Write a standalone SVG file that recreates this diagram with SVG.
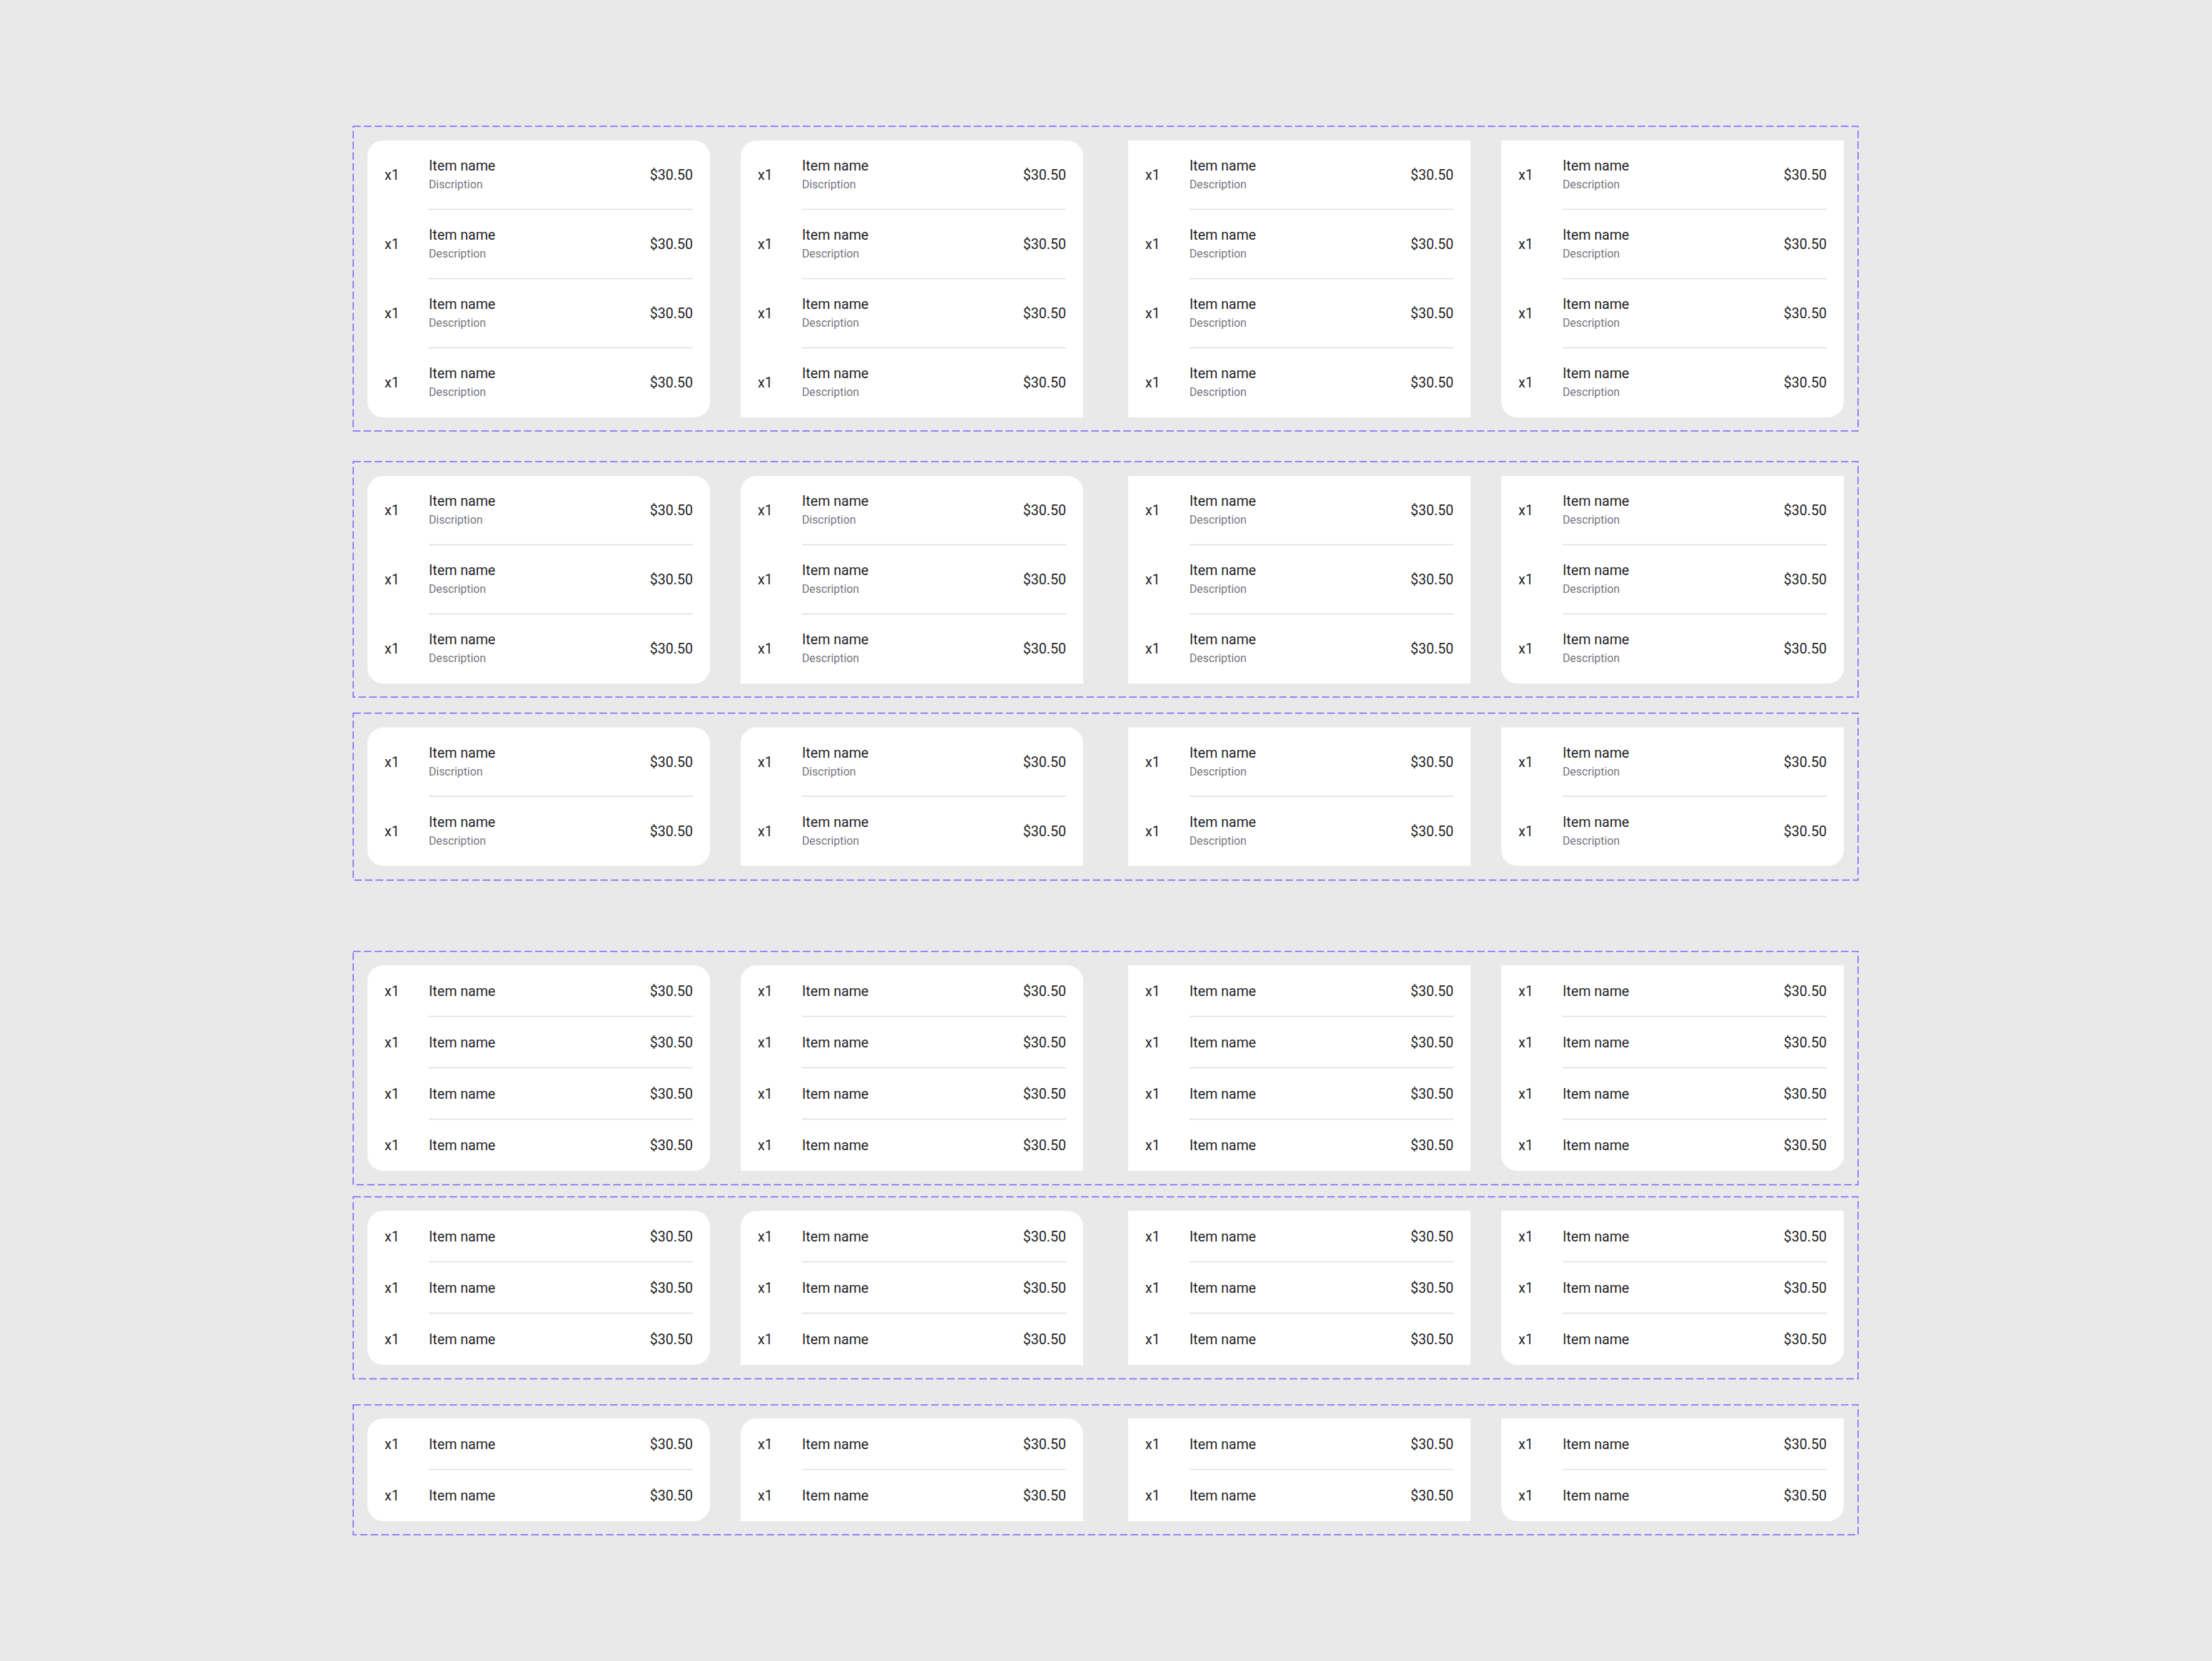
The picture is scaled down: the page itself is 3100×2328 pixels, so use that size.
<svg xmlns="http://www.w3.org/2000/svg" width="3100" height="2328" viewBox="0 0 3100 2328">
<style>
.frame{fill:none;stroke:#7b61ff;stroke-width:1.5;stroke-dasharray:10.5 4.5}
.card{fill:#ffffff}
.q,.n,.p{font-family:Roboto,"Liberation Sans",sans-serif;font-size:19.6px;fill:#1f1f27}
.p{text-anchor:end}
.d{font-family:Roboto,"Liberation Sans",sans-serif;font-size:15.8px;fill:#76767e}
.s{stroke:#dedee3;stroke-width:1.5}
</style>
<rect x="0" y="0" width="3100" height="2328" fill="#e9e9e9"/>
<g id="frames">
<rect class="frame" x="495" y="177" width="2109" height="427"/>
<rect class="frame" x="495" y="647" width="2109" height="330"/>
<rect class="frame" x="495" y="999.5" width="2109" height="234"/>
<rect class="frame" x="495" y="1333.5" width="2109" height="327"/>
<rect class="frame" x="495" y="1677.5" width="2109" height="255"/>
<rect class="frame" x="495" y="1969" width="2109" height="182"/>
</g>

<!-- Group 1: 4 rows with description -->
<g id="g1-c1" transform="translate(515,197)">
<rect class="card" width="480" height="388" rx="22"/>
<text class="q" x="24" y="55">x1</text><text class="n" x="86" y="42">Item name</text><text class="d" x="86" y="67">Discription</text><text class="p" x="456" y="55">$30.50</text>
<line class="s" x1="86" x2="456" y1="96.5" y2="96.5"/>
<text class="q" x="24" y="152">x1</text><text class="n" x="86" y="139">Item name</text><text class="d" x="86" y="164">Description</text><text class="p" x="456" y="152">$30.50</text>
<line class="s" x1="86" x2="456" y1="193.5" y2="193.5"/>
<text class="q" x="24" y="249">x1</text><text class="n" x="86" y="236">Item name</text><text class="d" x="86" y="261">Description</text><text class="p" x="456" y="249">$30.50</text>
<line class="s" x1="86" x2="456" y1="290.5" y2="290.5"/>
<text class="q" x="24" y="346">x1</text><text class="n" x="86" y="333">Item name</text><text class="d" x="86" y="358">Description</text><text class="p" x="456" y="346">$30.50</text>
</g>
<g id="g1-c2" transform="translate(1038,197)">
<path class="card" d="M0,22A22,22 0 0 1 22,0H458A22,22 0 0 1 480,22V388H0Z"/>
<text class="q" x="24" y="55">x1</text><text class="n" x="86" y="42">Item name</text><text class="d" x="86" y="67">Discription</text><text class="p" x="456" y="55">$30.50</text>
<line class="s" x1="86" x2="456" y1="96.5" y2="96.5"/>
<text class="q" x="24" y="152">x1</text><text class="n" x="86" y="139">Item name</text><text class="d" x="86" y="164">Description</text><text class="p" x="456" y="152">$30.50</text>
<line class="s" x1="86" x2="456" y1="193.5" y2="193.5"/>
<text class="q" x="24" y="249">x1</text><text class="n" x="86" y="236">Item name</text><text class="d" x="86" y="261">Description</text><text class="p" x="456" y="249">$30.50</text>
<line class="s" x1="86" x2="456" y1="290.5" y2="290.5"/>
<text class="q" x="24" y="346">x1</text><text class="n" x="86" y="333">Item name</text><text class="d" x="86" y="358">Description</text><text class="p" x="456" y="346">$30.50</text>
</g>
<g id="g1-c3" transform="translate(1581,197)">
<rect class="card" width="480" height="388"/>
<text class="q" x="24" y="55">x1</text><text class="n" x="86" y="42">Item name</text><text class="d" x="86" y="67">Description</text><text class="p" x="456" y="55">$30.50</text>
<line class="s" x1="86" x2="456" y1="96.5" y2="96.5"/>
<text class="q" x="24" y="152">x1</text><text class="n" x="86" y="139">Item name</text><text class="d" x="86" y="164">Description</text><text class="p" x="456" y="152">$30.50</text>
<line class="s" x1="86" x2="456" y1="193.5" y2="193.5"/>
<text class="q" x="24" y="249">x1</text><text class="n" x="86" y="236">Item name</text><text class="d" x="86" y="261">Description</text><text class="p" x="456" y="249">$30.50</text>
<line class="s" x1="86" x2="456" y1="290.5" y2="290.5"/>
<text class="q" x="24" y="346">x1</text><text class="n" x="86" y="333">Item name</text><text class="d" x="86" y="358">Description</text><text class="p" x="456" y="346">$30.50</text>
</g>
<g id="g1-c4" transform="translate(2104,197)">
<path class="card" d="M0,0H480V366A22,22 0 0 1 458,388H22A22,22 0 0 1 0,366Z"/>
<text class="q" x="24" y="55">x1</text><text class="n" x="86" y="42">Item name</text><text class="d" x="86" y="67">Description</text><text class="p" x="456" y="55">$30.50</text>
<line class="s" x1="86" x2="456" y1="96.5" y2="96.5"/>
<text class="q" x="24" y="152">x1</text><text class="n" x="86" y="139">Item name</text><text class="d" x="86" y="164">Description</text><text class="p" x="456" y="152">$30.50</text>
<line class="s" x1="86" x2="456" y1="193.5" y2="193.5"/>
<text class="q" x="24" y="249">x1</text><text class="n" x="86" y="236">Item name</text><text class="d" x="86" y="261">Description</text><text class="p" x="456" y="249">$30.50</text>
<line class="s" x1="86" x2="456" y1="290.5" y2="290.5"/>
<text class="q" x="24" y="346">x1</text><text class="n" x="86" y="333">Item name</text><text class="d" x="86" y="358">Description</text><text class="p" x="456" y="346">$30.50</text>
</g>

<!-- Group 2: 3 rows with description -->
<g id="g2-c1" transform="translate(515,667)">
<rect class="card" width="480" height="291" rx="22"/>
<text class="q" x="24" y="55">x1</text><text class="n" x="86" y="42">Item name</text><text class="d" x="86" y="67">Discription</text><text class="p" x="456" y="55">$30.50</text>
<line class="s" x1="86" x2="456" y1="96.5" y2="96.5"/>
<text class="q" x="24" y="152">x1</text><text class="n" x="86" y="139">Item name</text><text class="d" x="86" y="164">Description</text><text class="p" x="456" y="152">$30.50</text>
<line class="s" x1="86" x2="456" y1="193.5" y2="193.5"/>
<text class="q" x="24" y="249">x1</text><text class="n" x="86" y="236">Item name</text><text class="d" x="86" y="261">Description</text><text class="p" x="456" y="249">$30.50</text>
</g>
<g id="g2-c2" transform="translate(1038,667)">
<path class="card" d="M0,22A22,22 0 0 1 22,0H458A22,22 0 0 1 480,22V291H0Z"/>
<text class="q" x="24" y="55">x1</text><text class="n" x="86" y="42">Item name</text><text class="d" x="86" y="67">Discription</text><text class="p" x="456" y="55">$30.50</text>
<line class="s" x1="86" x2="456" y1="96.5" y2="96.5"/>
<text class="q" x="24" y="152">x1</text><text class="n" x="86" y="139">Item name</text><text class="d" x="86" y="164">Description</text><text class="p" x="456" y="152">$30.50</text>
<line class="s" x1="86" x2="456" y1="193.5" y2="193.5"/>
<text class="q" x="24" y="249">x1</text><text class="n" x="86" y="236">Item name</text><text class="d" x="86" y="261">Description</text><text class="p" x="456" y="249">$30.50</text>
</g>
<g id="g2-c3" transform="translate(1581,667)">
<rect class="card" width="480" height="291"/>
<text class="q" x="24" y="55">x1</text><text class="n" x="86" y="42">Item name</text><text class="d" x="86" y="67">Description</text><text class="p" x="456" y="55">$30.50</text>
<line class="s" x1="86" x2="456" y1="96.5" y2="96.5"/>
<text class="q" x="24" y="152">x1</text><text class="n" x="86" y="139">Item name</text><text class="d" x="86" y="164">Description</text><text class="p" x="456" y="152">$30.50</text>
<line class="s" x1="86" x2="456" y1="193.5" y2="193.5"/>
<text class="q" x="24" y="249">x1</text><text class="n" x="86" y="236">Item name</text><text class="d" x="86" y="261">Description</text><text class="p" x="456" y="249">$30.50</text>
</g>
<g id="g2-c4" transform="translate(2104,667)">
<path class="card" d="M0,0H480V269A22,22 0 0 1 458,291H22A22,22 0 0 1 0,269Z"/>
<text class="q" x="24" y="55">x1</text><text class="n" x="86" y="42">Item name</text><text class="d" x="86" y="67">Description</text><text class="p" x="456" y="55">$30.50</text>
<line class="s" x1="86" x2="456" y1="96.5" y2="96.5"/>
<text class="q" x="24" y="152">x1</text><text class="n" x="86" y="139">Item name</text><text class="d" x="86" y="164">Description</text><text class="p" x="456" y="152">$30.50</text>
<line class="s" x1="86" x2="456" y1="193.5" y2="193.5"/>
<text class="q" x="24" y="249">x1</text><text class="n" x="86" y="236">Item name</text><text class="d" x="86" y="261">Description</text><text class="p" x="456" y="249">$30.50</text>
</g>

<!-- Group 3: 2 rows with description -->
<g id="g3-c1" transform="translate(515,1019.5)">
<rect class="card" width="480" height="194" rx="22"/>
<text class="q" x="24" y="55">x1</text><text class="n" x="86" y="42">Item name</text><text class="d" x="86" y="67">Discription</text><text class="p" x="456" y="55">$30.50</text>
<line class="s" x1="86" x2="456" y1="96.5" y2="96.5"/>
<text class="q" x="24" y="152">x1</text><text class="n" x="86" y="139">Item name</text><text class="d" x="86" y="164">Description</text><text class="p" x="456" y="152">$30.50</text>
</g>
<g id="g3-c2" transform="translate(1038,1019.5)">
<path class="card" d="M0,22A22,22 0 0 1 22,0H458A22,22 0 0 1 480,22V194H0Z"/>
<text class="q" x="24" y="55">x1</text><text class="n" x="86" y="42">Item name</text><text class="d" x="86" y="67">Discription</text><text class="p" x="456" y="55">$30.50</text>
<line class="s" x1="86" x2="456" y1="96.5" y2="96.5"/>
<text class="q" x="24" y="152">x1</text><text class="n" x="86" y="139">Item name</text><text class="d" x="86" y="164">Description</text><text class="p" x="456" y="152">$30.50</text>
</g>
<g id="g3-c3" transform="translate(1581,1019.5)">
<rect class="card" width="480" height="194"/>
<text class="q" x="24" y="55">x1</text><text class="n" x="86" y="42">Item name</text><text class="d" x="86" y="67">Description</text><text class="p" x="456" y="55">$30.50</text>
<line class="s" x1="86" x2="456" y1="96.5" y2="96.5"/>
<text class="q" x="24" y="152">x1</text><text class="n" x="86" y="139">Item name</text><text class="d" x="86" y="164">Description</text><text class="p" x="456" y="152">$30.50</text>
</g>
<g id="g3-c4" transform="translate(2104,1019.5)">
<path class="card" d="M0,0H480V172A22,22 0 0 1 458,194H22A22,22 0 0 1 0,172Z"/>
<text class="q" x="24" y="55">x1</text><text class="n" x="86" y="42">Item name</text><text class="d" x="86" y="67">Description</text><text class="p" x="456" y="55">$30.50</text>
<line class="s" x1="86" x2="456" y1="96.5" y2="96.5"/>
<text class="q" x="24" y="152">x1</text><text class="n" x="86" y="139">Item name</text><text class="d" x="86" y="164">Description</text><text class="p" x="456" y="152">$30.50</text>
</g>

<!-- Group 4: 4 compact rows -->
<g id="g4-c1" transform="translate(515,1353)">
<rect class="card" width="480" height="288" rx="22"/>
<text class="q" x="24" y="43">x1</text><text class="n" x="86" y="43">Item name</text><text class="p" x="456" y="43">$30.50</text>
<line class="s" x1="86" x2="456" y1="71.5" y2="71.5"/>
<text class="q" x="24" y="115">x1</text><text class="n" x="86" y="115">Item name</text><text class="p" x="456" y="115">$30.50</text>
<line class="s" x1="86" x2="456" y1="143.5" y2="143.5"/>
<text class="q" x="24" y="187">x1</text><text class="n" x="86" y="187">Item name</text><text class="p" x="456" y="187">$30.50</text>
<line class="s" x1="86" x2="456" y1="215.5" y2="215.5"/>
<text class="q" x="24" y="259">x1</text><text class="n" x="86" y="259">Item name</text><text class="p" x="456" y="259">$30.50</text>
</g>
<g id="g4-c2" transform="translate(1038,1353)">
<path class="card" d="M0,22A22,22 0 0 1 22,0H458A22,22 0 0 1 480,22V288H0Z"/>
<text class="q" x="24" y="43">x1</text><text class="n" x="86" y="43">Item name</text><text class="p" x="456" y="43">$30.50</text>
<line class="s" x1="86" x2="456" y1="71.5" y2="71.5"/>
<text class="q" x="24" y="115">x1</text><text class="n" x="86" y="115">Item name</text><text class="p" x="456" y="115">$30.50</text>
<line class="s" x1="86" x2="456" y1="143.5" y2="143.5"/>
<text class="q" x="24" y="187">x1</text><text class="n" x="86" y="187">Item name</text><text class="p" x="456" y="187">$30.50</text>
<line class="s" x1="86" x2="456" y1="215.5" y2="215.5"/>
<text class="q" x="24" y="259">x1</text><text class="n" x="86" y="259">Item name</text><text class="p" x="456" y="259">$30.50</text>
</g>
<g id="g4-c3" transform="translate(1581,1353)">
<rect class="card" width="480" height="288"/>
<text class="q" x="24" y="43">x1</text><text class="n" x="86" y="43">Item name</text><text class="p" x="456" y="43">$30.50</text>
<line class="s" x1="86" x2="456" y1="71.5" y2="71.5"/>
<text class="q" x="24" y="115">x1</text><text class="n" x="86" y="115">Item name</text><text class="p" x="456" y="115">$30.50</text>
<line class="s" x1="86" x2="456" y1="143.5" y2="143.5"/>
<text class="q" x="24" y="187">x1</text><text class="n" x="86" y="187">Item name</text><text class="p" x="456" y="187">$30.50</text>
<line class="s" x1="86" x2="456" y1="215.5" y2="215.5"/>
<text class="q" x="24" y="259">x1</text><text class="n" x="86" y="259">Item name</text><text class="p" x="456" y="259">$30.50</text>
</g>
<g id="g4-c4" transform="translate(2104,1353)">
<path class="card" d="M0,0H480V266A22,22 0 0 1 458,288H22A22,22 0 0 1 0,266Z"/>
<text class="q" x="24" y="43">x1</text><text class="n" x="86" y="43">Item name</text><text class="p" x="456" y="43">$30.50</text>
<line class="s" x1="86" x2="456" y1="71.5" y2="71.5"/>
<text class="q" x="24" y="115">x1</text><text class="n" x="86" y="115">Item name</text><text class="p" x="456" y="115">$30.50</text>
<line class="s" x1="86" x2="456" y1="143.5" y2="143.5"/>
<text class="q" x="24" y="187">x1</text><text class="n" x="86" y="187">Item name</text><text class="p" x="456" y="187">$30.50</text>
<line class="s" x1="86" x2="456" y1="215.5" y2="215.5"/>
<text class="q" x="24" y="259">x1</text><text class="n" x="86" y="259">Item name</text><text class="p" x="456" y="259">$30.50</text>
</g>

<!-- Group 5: 3 compact rows -->
<g id="g5-c1" transform="translate(515,1697)">
<rect class="card" width="480" height="216" rx="22"/>
<text class="q" x="24" y="43">x1</text><text class="n" x="86" y="43">Item name</text><text class="p" x="456" y="43">$30.50</text>
<line class="s" x1="86" x2="456" y1="71.5" y2="71.5"/>
<text class="q" x="24" y="115">x1</text><text class="n" x="86" y="115">Item name</text><text class="p" x="456" y="115">$30.50</text>
<line class="s" x1="86" x2="456" y1="143.5" y2="143.5"/>
<text class="q" x="24" y="187">x1</text><text class="n" x="86" y="187">Item name</text><text class="p" x="456" y="187">$30.50</text>
</g>
<g id="g5-c2" transform="translate(1038,1697)">
<path class="card" d="M0,22A22,22 0 0 1 22,0H458A22,22 0 0 1 480,22V216H0Z"/>
<text class="q" x="24" y="43">x1</text><text class="n" x="86" y="43">Item name</text><text class="p" x="456" y="43">$30.50</text>
<line class="s" x1="86" x2="456" y1="71.5" y2="71.5"/>
<text class="q" x="24" y="115">x1</text><text class="n" x="86" y="115">Item name</text><text class="p" x="456" y="115">$30.50</text>
<line class="s" x1="86" x2="456" y1="143.5" y2="143.5"/>
<text class="q" x="24" y="187">x1</text><text class="n" x="86" y="187">Item name</text><text class="p" x="456" y="187">$30.50</text>
</g>
<g id="g5-c3" transform="translate(1581,1697)">
<rect class="card" width="480" height="216"/>
<text class="q" x="24" y="43">x1</text><text class="n" x="86" y="43">Item name</text><text class="p" x="456" y="43">$30.50</text>
<line class="s" x1="86" x2="456" y1="71.5" y2="71.5"/>
<text class="q" x="24" y="115">x1</text><text class="n" x="86" y="115">Item name</text><text class="p" x="456" y="115">$30.50</text>
<line class="s" x1="86" x2="456" y1="143.5" y2="143.5"/>
<text class="q" x="24" y="187">x1</text><text class="n" x="86" y="187">Item name</text><text class="p" x="456" y="187">$30.50</text>
</g>
<g id="g5-c4" transform="translate(2104,1697)">
<path class="card" d="M0,0H480V194A22,22 0 0 1 458,216H22A22,22 0 0 1 0,194Z"/>
<text class="q" x="24" y="43">x1</text><text class="n" x="86" y="43">Item name</text><text class="p" x="456" y="43">$30.50</text>
<line class="s" x1="86" x2="456" y1="71.5" y2="71.5"/>
<text class="q" x="24" y="115">x1</text><text class="n" x="86" y="115">Item name</text><text class="p" x="456" y="115">$30.50</text>
<line class="s" x1="86" x2="456" y1="143.5" y2="143.5"/>
<text class="q" x="24" y="187">x1</text><text class="n" x="86" y="187">Item name</text><text class="p" x="456" y="187">$30.50</text>
</g>

<!-- Group 6: 2 compact rows -->
<g id="g6-c1" transform="translate(515,1988)">
<rect class="card" width="480" height="144" rx="22"/>
<text class="q" x="24" y="43">x1</text><text class="n" x="86" y="43">Item name</text><text class="p" x="456" y="43">$30.50</text>
<line class="s" x1="86" x2="456" y1="71.5" y2="71.5"/>
<text class="q" x="24" y="115">x1</text><text class="n" x="86" y="115">Item name</text><text class="p" x="456" y="115">$30.50</text>
</g>
<g id="g6-c2" transform="translate(1038,1988)">
<path class="card" d="M0,22A22,22 0 0 1 22,0H458A22,22 0 0 1 480,22V144H0Z"/>
<text class="q" x="24" y="43">x1</text><text class="n" x="86" y="43">Item name</text><text class="p" x="456" y="43">$30.50</text>
<line class="s" x1="86" x2="456" y1="71.5" y2="71.5"/>
<text class="q" x="24" y="115">x1</text><text class="n" x="86" y="115">Item name</text><text class="p" x="456" y="115">$30.50</text>
</g>
<g id="g6-c3" transform="translate(1581,1988)">
<rect class="card" width="480" height="144"/>
<text class="q" x="24" y="43">x1</text><text class="n" x="86" y="43">Item name</text><text class="p" x="456" y="43">$30.50</text>
<line class="s" x1="86" x2="456" y1="71.5" y2="71.5"/>
<text class="q" x="24" y="115">x1</text><text class="n" x="86" y="115">Item name</text><text class="p" x="456" y="115">$30.50</text>
</g>
<g id="g6-c4" transform="translate(2104,1988)">
<path class="card" d="M0,0H480V122A22,22 0 0 1 458,144H22A22,22 0 0 1 0,122Z"/>
<text class="q" x="24" y="43">x1</text><text class="n" x="86" y="43">Item name</text><text class="p" x="456" y="43">$30.50</text>
<line class="s" x1="86" x2="456" y1="71.5" y2="71.5"/>
<text class="q" x="24" y="115">x1</text><text class="n" x="86" y="115">Item name</text><text class="p" x="456" y="115">$30.50</text>
</g>
</svg>
